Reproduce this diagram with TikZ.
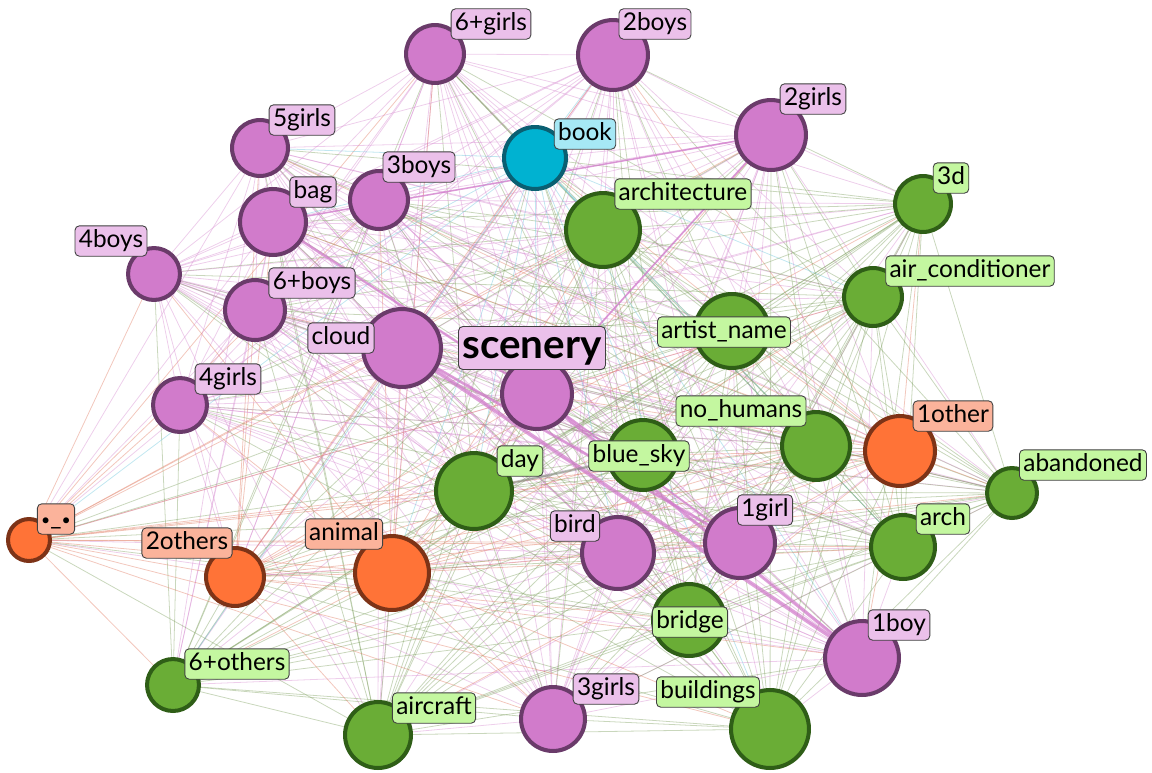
\documentclass[tikz,border=0pt]{standalone}
\usepackage{fontspec}
\setmainfont{Lato}
\usetikzlibrary{backgrounds}

\definecolor{pfill}{HTML}{D17BCB}
\definecolor{pline}{HTML}{6A3B6A}
\definecolor{plabfill}{HTML}{EBC0EA}
\definecolor{gfill}{HTML}{6AAD36}
\definecolor{gline}{HTML}{2F5E17}
\definecolor{glabfill}{HTML}{C4F7A0}
\definecolor{ofill}{HTML}{FF7337}
\definecolor{oline}{HTML}{7D3317}
\definecolor{olabfill}{HTML}{FBB39B}
\definecolor{bfill}{HTML}{00B2D1}
\definecolor{bline}{HTML}{0A5F72}
\definecolor{blabfill}{HTML}{A6E8F5}
\definecolor{pedge}{HTML}{D68BD0}
\definecolor{gedge}{HTML}{7FA060}
\definecolor{oedge}{HTML}{E07A60}
\definecolor{bedge}{HTML}{6CC6DC}

% every tag, with the colour its links get
\def\taglist{sixgirls/pedge, twoboys/pedge, twogirls/pedge, fivegirls/pedge,
  threeboys/pedge, bag/pedge, fourboys/pedge, sixboys/pedge, cloud/pedge,
  scenery/pedge, fourgirls/pedge, bird/pedge, onegirl/pedge, oneboy/pedge,
  threegirls/pedge, book/bedge, architecture/gedge, threed/gedge, aircond/gedge,
  artist/gedge, nohumans/gedge, bluesky/gedge, day/gedge, abandoned/gedge,
  arch/gedge, bridge/gedge, sixothers/gedge, aircraft/gedge, buildings/gedge,
  oneother/oedge, face/oedge, twoothers/oedge, animal/oedge}

\begin{document}
\begin{tikzpicture}[x=0.02cm, y=-0.02cm,
    tag/.style={circle, line width=2.3pt, inner sep=0pt},
    sz/.style={minimum size={#1*0.04cm-2.3pt}},
    ptag/.style={tag, fill=pfill, draw=pline},
    gtag/.style={tag, fill=gfill, draw=gline},
    otag/.style={tag, fill=ofill, draw=oline},
    btag/.style={tag, fill=bfill, draw=bline},
    lab/.style={rounded corners=2.5pt, draw=black!75, line width=0.5pt,
      inner xsep=2.2pt, inner ysep=2pt, text height=10.2pt, text depth=3.1pt,
      font=\fontsize{13.9}{16}\selectfont},
    plab/.style={lab, fill=plabfill},
    glab/.style={lab, fill=glabfill},
    olab/.style={lab, fill=olabfill},
    blab/.style={lab, fill=blabfill},
    link/.style={draw=#1, line width=0.45pt, opacity=0.42},
    heavy/.style={draw=pfill, line width=#1, opacity=0.7}]
  \useasboundingbox (0,0) rectangle (1152,772);

  \node[ptag, sz=31] (sixgirls) at (435,54) {};
  \node[ptag, sz=37] (twoboys) at (613,55) {};
  \node[ptag, sz=37] (twogirls) at (771,135) {};
  \node[ptag, sz=30] (fivegirls) at (260,148) {};
  \node[ptag, sz=31] (threeboys) at (379,200) {};
  \node[ptag, sz=35] (bag) at (273,222) {};
  \node[ptag, sz=28] (fourboys) at (154,274) {};
  \node[ptag, sz=32] (sixboys) at (255,310) {};
  \node[ptag, sz=41] (cloud) at (402,348) {};
  \node[ptag, sz=37] (scenery) at (537,394) {};
  \node[ptag, sz=29] (fourgirls) at (180,405) {};
  \node[ptag, sz=38] (bird) at (618,553) {};
  \node[ptag, sz=37] (onegirl) at (740,543) {};
  \node[ptag, sz=39] (oneboy) at (862,658) {};
  \node[ptag, sz=34] (threegirls) at (553,719) {};
  \node[btag, sz=33] (book) at (535,158) {};
  \node[gtag, sz=39] (architecture) at (603,230) {};
  \node[gtag, sz=30] (threed) at (923,204) {};
  \node[gtag, sz=31] (aircond) at (873,297) {};
  \node[gtag, sz=39] (artist) at (732,331) {};
  \node[gtag, sz=36] (nohumans) at (816,446) {};
  \node[gtag, sz=37] (bluesky) at (643,455) {};
  \node[gtag, sz=40] (day) at (474,491) {};
  \node[gtag, sz=27] (abandoned) at (1012,493) {};
  \node[gtag, sz=34] (arch) at (903,547) {};
  \node[gtag, sz=38] (bridge) at (689,620) {};
  \node[gtag, sz=28] (sixothers) at (173,685) {};
  \node[gtag, sz=35] (aircraft) at (378,735) {};
  \node[gtag, sz=41] (buildings) at (770,729) {};
  \node[otag, sz=37] (oneother) at (900,451) {};
  \node[otag, sz=23] (face) at (29,540) {};
  \node[otag, sz=31] (twoothers) at (235,577) {};
  \node[otag, sz=39] (animal) at (392,573) {};

  \begin{scope}[on background layer]
    \foreach \a/\ca [count=\i] in \taglist {
      \foreach \b/\cb [count=\j] in \taglist {
        \ifnum\j>\i
          \ifodd\numexpr\i+\j\relax
            \draw[link=\ca] (\a) -- (\b);
          \else
            \draw[link=\cb] (\a) -- (\b);
          \fi
        \fi
      }
    }
    \draw[heavy=2.2pt] (cloud) -- (oneboy);
    \draw[heavy=1.8pt] (scenery) -- (oneboy);
    \draw[heavy=1.6pt] (cloud) -- (onegirl);
    \draw[heavy=1.4pt] (bag) -- (scenery);
    \draw[heavy=1.2pt] (scenery) -- (onegirl);
    \draw[heavy=1pt] (twogirls) -- (scenery);
    \draw[heavy=0.9pt] (twogirls) -- (bag);
    \draw[gray, line width=1.5pt, opacity=0.5] (day) -- (bluesky);
  \end{scope}

  \node[plab] (sixgirls-l) at (491,24) {6+girls};
  \node[plab] (twoboys-l) at (655,24) {2boys};
  \node[plab] (twogirls-l) at (813,99) {2girls};
  \node[plab] (fivegirls-l) at (302,120) {5girls};
  \node[plab] (threeboys-l) at (419,167) {3boys};
  \node[plab] (bag-l) at (313,192) {bag};
  \node[plab] (fourboys-l) at (111,241) {4boys};
  \node[plab] (sixboys-l) at (312,283) {6+boys};
  \node[plab] (cloud-l) at (341,338) {cloud};
  \node[plab, font=\fontsize{23}{26}\bfseries\selectfont, text height=16.5pt,
    text depth=5pt, inner ysep=1.5pt] (scenery-l) at (532,348) {scenery};
  \node[plab] (fourgirls-l) at (228,379) {4girls};
  \node[plab] (bird-l) at (575,526) {bird};
  \node[plab] (onegirl-l) at (765,510) {1girl};
  \node[plab] (oneboy-l) at (899,625) {1boy};
  \node[plab] (threegirls-l) at (606,689) {3girls};
  \node[blab] (book-l) at (585,134) {book};
  \node[glab] (architecture-l) at (683,194) {architecture};
  \node[glab] (threed-l) at (951,178) {3d};
  \node[glab] (aircond-l) at (970,271) {air\_conditioner};
  \node[glab] (artist-l) at (724,332) {artist\_name};
  \node[glab] (nohumans-l) at (741,411) {no\_humans};
  \node[glab] (bluesky-l) at (639,456) {blue\_sky};
  \node[glab] (day-l) at (520,461) {day};
  \node[glab] (abandoned-l) at (1083,465) {abandoned};
  \node[glab] (arch-l) at (943,519) {arch};
  \node[glab] (bridge-l) at (690,622) {bridge};
  \node[glab] (sixothers-l) at (237,664) {6+others};
  \node[glab] (aircraft-l) at (434,708) {aircraft};
  \node[glab] (buildings-l) at (708,692) {buildings};
  \node[olab] (oneother-l) at (953,416) {1other};
  \node[olab] (face-l) at (56,519) {{\small\textbullet}\_{\small\textbullet}};
  \node[olab] (twoothers-l) at (187,543) {2others};
  \node[olab] (animal-l) at (344,534) {animal};
\end{tikzpicture}
\end{document}
